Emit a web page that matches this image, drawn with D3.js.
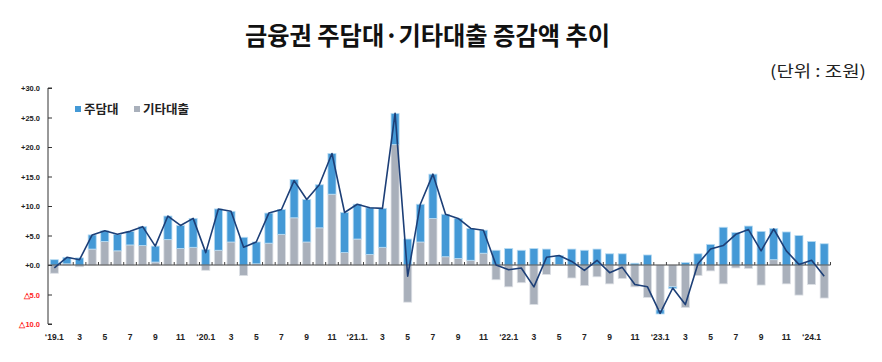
<!DOCTYPE html>
<html>
<head>
<meta charset="utf-8">
<script src="https://cdn.jsdelivr.net/npm/d3@7"></script>
<style>
  body { margin: 0; background: #fff; }
  svg { display: block; font-family: "Noto Sans CJK KR", "Noto Sans", sans-serif; }
</style>
</head>
<body>
<svg id="chart" width="882" height="362"></svg>
<script>
// 월별 증감액 (조원), 2019.1 ~ 2024.2
const months = d3.range(62).map(i => `${2019 + Math.floor(i / 12)}-${(i % 12) + 1}`);

const mortgage = [ // 주담대
  0.9, 1.1, 1.2, 2.4, 1.8, 2.8, 2.3, 3.2, 2.7, 4.0, 3.9, 4.9,
  2.6, 7.0, 5.2, 4.7, 3.7, 5.1, 4.2, 6.5, 7.2, 7.3, 6.9, 6.8,
  5.9, 7.9, 6.6, 5.3, 4.4, 6.4, 7.5, 7.2, 6.8, 5.4, 3.9, 2.5,
  2.8, 2.5, 2.8, 2.7, 1.5, 2.7, 2.5, 2.7, 1.9, 1.9, 0.3, 1.7,
  -0.7, -0.3, 0.4, 1.9, 3.5, 6.4, 5.5, 6.6, 5.7, 5.3, 5.6, 5.0,
  4.0, 3.6
];
const otherLoans = [ // 기타대출
  -1.4, 0.2, -0.3, 2.7, 4.0, 2.4, 3.4, 3.3, 0.5, 4.3, 2.8, 3.0,
  -0.9, 2.5, 3.9, -1.8, 0.2, 3.7, 5.2, 8.0, 3.9, 6.3, 12.0, 2.1,
  4.4, 1.8, 3.0, 20.4, -6.3, 3.9, 7.9, 1.4, 1.1, 0.8, 2.0, -2.5,
  -3.7, -3.0, -6.7, -1.6, 0.1, -2.2, -3.5, -2.0, -3.2, -2.3, -3.7, -5.5,
  -7.6, -3.7, -7.2, -1.8, -1.0, -3.2, -0.5, -0.6, -3.4, 0.9, -3.2, -5.1,
  -3.3, -5.6
];
const totals = [ // 합계 (꺾은선)
  -0.5, 1.3, 0.9, 5.1, 5.8, 5.2, 5.7, 6.5, 3.2, 8.3, 6.7, 7.9,
  2.1, 9.5, 9.1, 3.0, 3.9, 8.8, 9.4, 14.3, 11.1, 13.6, 18.9, 8.9,
  10.3, 9.7, 9.6, 25.7, -1.9, 10.3, 15.4, 8.6, 7.9, 6.2, 5.9, 0.0,
  -0.8, -0.5, -3.7, 1.3, 1.6, 0.6, -0.9, 0.8, -1.3, -0.4, -3.3, -3.7,
  -8.2, -3.9, -6.7, 0.2, 2.7, 3.3, 5.2, 6.0, 2.4, 6.1, 2.4, 0.1,
  0.8, -1.9
];
const xTickLabels = [
  "‘19.1", "3", "5", "7", "9", "11",
  "‘20.1", "3", "5", "7", "9", "11",
  "‘21.1.", "3", "5", "7", "9", "11",
  "‘22.1", "3", "5", "7", "9", "11",
  "‘23.1", "3", "5", "7", "9", "11",
  "‘24.1"
];
const yTicks = [30, 25, 20, 15, 10, 5, 0, -5, -10];
const seriesNames = ["기타대출", "주담대"];

const colors = { "주담대": "#4499d6", "기타대출": "#a9b0bb" };
const edge = { "주담대": "#b9dcf3", "기타대출": "#dde0e5" };

const svg = d3.select("#chart");

const x = d3.scaleBand().domain(months).range([48, 830.5]).paddingInner(0.36).paddingOuter(0.18);
const y = d3.scaleLinear().domain([-10, 30]).range([324, 88]);

// 제목 (원본은 좁은 글꼴이라 가로로 눌러 줌)
svg.append("text")
  .attr("x", 245).attr("y", 45)
  .attr("font-size", 25).attr("font-weight", "bold")
  .attr("fill", "#111")
  .attr("textLength", 365).attr("lengthAdjust", "spacingAndGlyphs")
  .text("금융권 주담대·기타대출 증감액 추이");

svg.append("text")
  .attr("x", 770).attr("y", 77)
  .attr("font-size", 16)
  .attr("fill", "#222")
  .attr("textLength", 96).attr("lengthAdjust", "spacingAndGlyphs")
  .text("(단위 : 조원)");

// 누적 막대 (음수는 아래로)
const rows = months.map((m, i) => ({ month: m, "주담대": mortgage[i], "기타대출": otherLoans[i] }));
const stacked = d3.stack().keys(seriesNames).offset(d3.stackOffsetDiverging)(rows);

svg.append("g")
  .selectAll("g")
  .data(stacked)
  .join("g")
  .attr("fill", d => colors[d.key])
  .attr("stroke", d => edge[d.key])
  .attr("stroke-width", 0.8)
  .selectAll("rect")
  .data(d => d)
  .join("rect")
  .attr("x", d => x(d.data.month))
  .attr("width", x.bandwidth())
  .attr("y", d => y(Math.max(d[0], d[1])))
  .attr("height", d => Math.abs(y(d[0]) - y(d[1])));

// y축
const yAxis = svg.append("g")
  .attr("transform", "translate(48,0)")
  .call(d3.axisRight(y).tickValues(yTicks).tickSize(4).tickFormat(""));
yAxis.select(".domain").attr("stroke", "#333").attr("d", `M4,${y(30)}H0V${y(-10)}H4`);
yAxis.selectAll(".tick line").attr("stroke", "#333");

svg.append("g")
  .selectAll("text")
  .data(yTicks)
  .join("text")
  .attr("x", 40).attr("y", d => y(d) + 3)
  .attr("text-anchor", "end")
  .attr("font-size", 7.5).attr("font-weight", "bold")
  .attr("font-family", "Arial, 'Liberation Sans', sans-serif")
  .attr("fill", d => d < 0 ? "#ff1e1e" : "#222")
  .text(d => (d < 0 ? "△" + (-d).toFixed(1) : "+" + d.toFixed(1)));

// 0선 + 눈금 (막대 사이마다 위로 짧게)
svg.append("line")
  .attr("x1", 48).attr("x2", 830.5)
  .attr("y1", y(0)).attr("y2", y(0))
  .attr("stroke", "#444").attr("stroke-width", 1);
svg.append("g")
  .selectAll("line")
  .data(d3.range(1, months.length + 1))
  .join("line")
  .attr("x1", i => 48 + i * (782.5 / months.length))
  .attr("x2", i => 48 + i * (782.5 / months.length))
  .attr("y1", y(0)).attr("y2", y(0) - 3)
  .attr("stroke", "#444");

// x축 라벨
svg.append("g")
  .selectAll("text")
  .data(xTickLabels)
  .join("text")
  .attr("x", (d, i) => x(months[i * 2]) + x.bandwidth() / 2)
  .attr("y", 340)
  .attr("text-anchor", "middle")
  .attr("font-size", 8.5).attr("font-weight", "bold")
  .attr("font-family", "Arial, 'Liberation Sans', sans-serif")
  .attr("fill", "#222")
  .text(d => d);

// 합계 꺾은선
const line = d3.line()
  .x((d, i) => x(months[i]) + x.bandwidth() / 2)
  .y(d => y(d));
svg.append("path")
  .datum(totals)
  .attr("d", line)
  .attr("fill", "none")
  .attr("stroke", "#1d3f77")
  .attr("stroke-width", 1.6)
  .attr("stroke-linejoin", "round");

// 범례
const legend = svg.append("g").attr("transform", "translate(75,111)");
const legendItems = [
  { name: "주담대", x: 0 },
  { name: "기타대출", x: 59 }
];
legend.selectAll("g")
  .data(legendItems)
  .join("g")
  .attr("transform", d => `translate(${d.x},0)`)
  .each(function (d) {
    const g = d3.select(this);
    g.append("rect").attr("x", 0).attr("y", -5).attr("width", 6).attr("height", 6).attr("fill", colors[d.name]);
    g.append("text").attr("x", 9).attr("y", 3)
      .attr("font-size", 12.5).attr("font-weight", "bold").attr("fill", "#222")
      .text(d.name);
  });
</script>
</body>
</html>
